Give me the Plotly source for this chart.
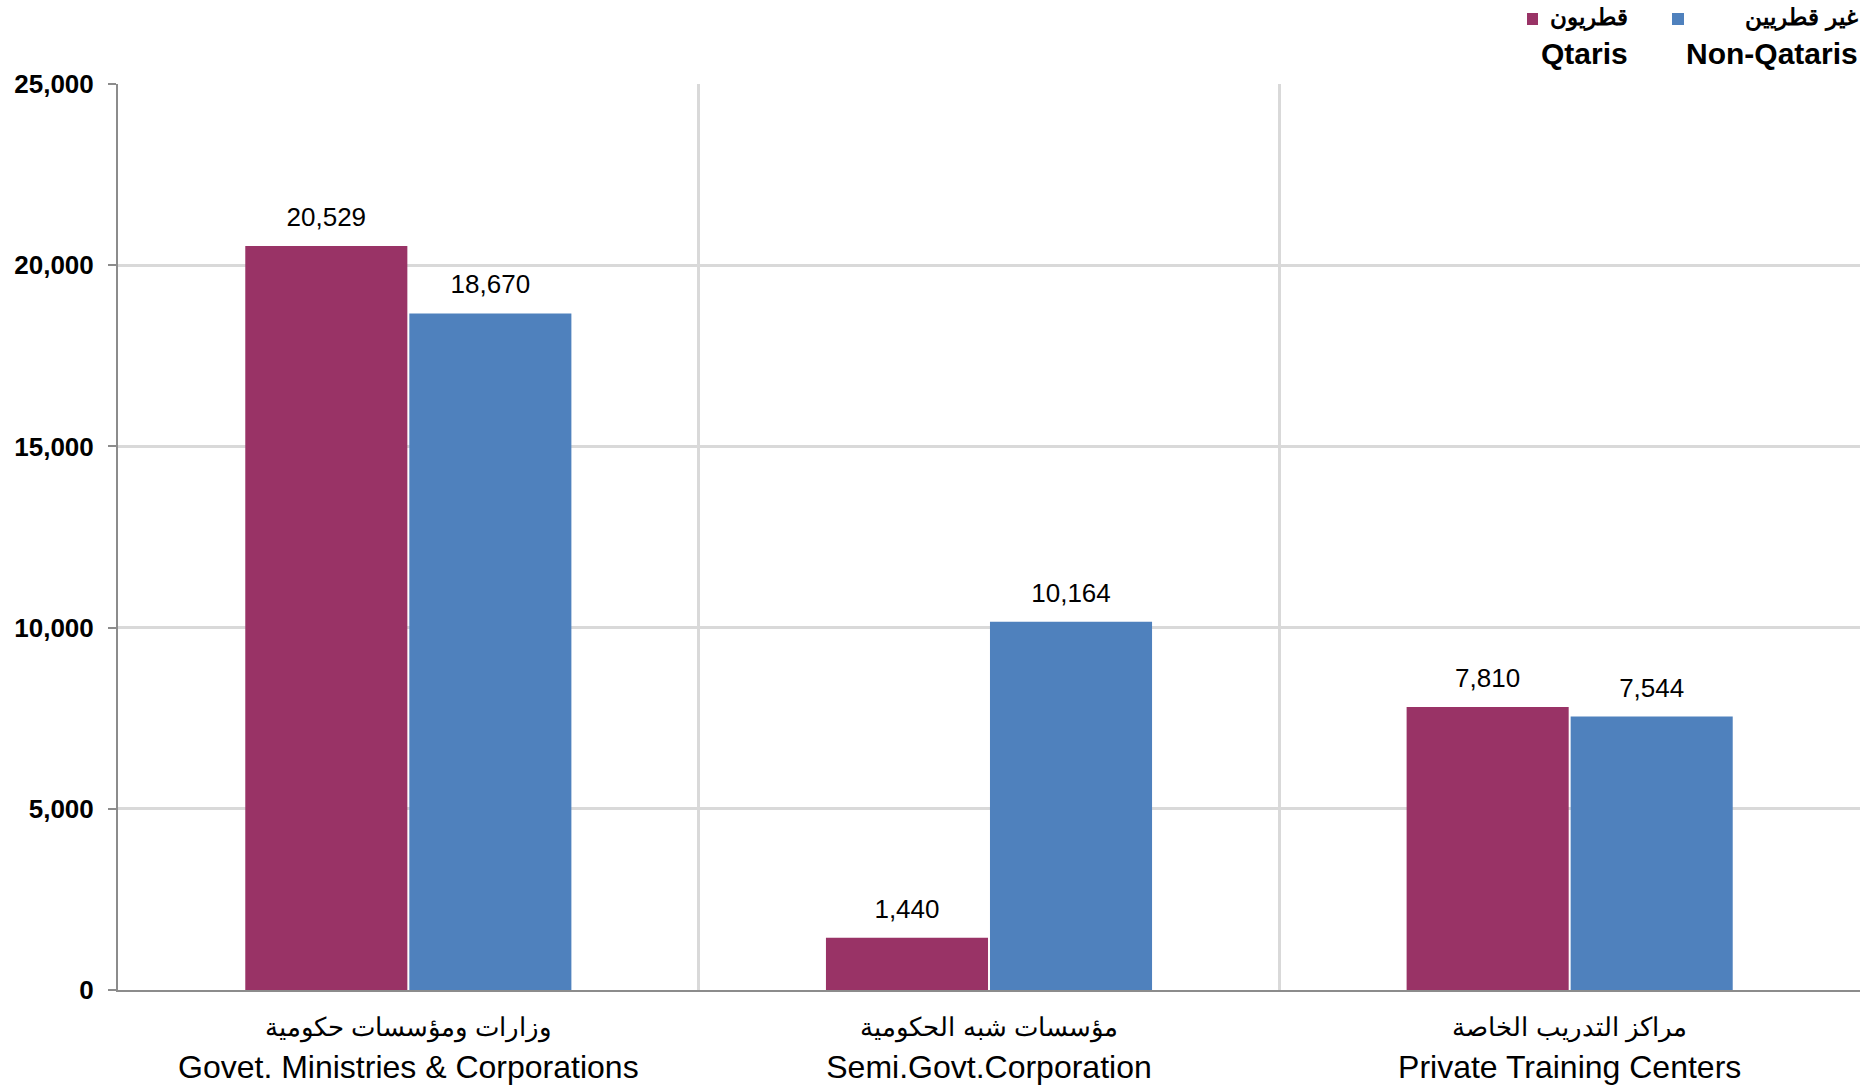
import plotly.graph_objects as go

categories_ar = ["وزارات ومؤسسات حكومية", "مؤسسات شبه الحكومية", "مراكز التدريب الخاصة"]
categories_en = ["Govet. Ministries & Corporations", "Semi.Govt.Corporation", "Private Training Centers"]
qataris = [20529, 1440, 7810]
non_qataris = [18670, 10164, 7544]
series_names_ar = ["قطريون", "غير قطريين"]
series_names_en = ["Qtaris", "Non-Qataris"]
colors = ["#993366", "#4F81BD"]
y_ticks = [0, 5000, 10000, 15000, 20000, 25000]

FONT = "Liberation Sans, Arial, Helvetica, sans-serif"
W, H = 1876, 1087
ML, MR, MT, MB = 118, 16, 84, 97
BARGAP = 0.435

x = [f"<span style='font-size:26px'>{a}</span><br>{e}" for a, e in zip(categories_ar, categories_en)]

fig = go.Figure()
for vals, col, nm in zip([qataris, non_qataris], colors, series_names_en):
    fig.add_trace(go.Bar(
        x=x, y=vals, name=nm,
        marker=dict(color=col, line=dict(width=0)),
        showlegend=False, hoverinfo="skip",
    ))
# value labels, grouped like the bars
for vals, nm in zip([qataris, non_qataris], series_names_en):
    fig.add_trace(go.Scatter(
        x=x, y=vals, name=nm + " labels",
        mode="markers+text",
        marker=dict(size=20, opacity=0, color="white"),
        text=[f"{v:,}" for v in vals],
        textposition="top center",
        textfont=dict(family=FONT, size=26, color="#000000"),
        cliponaxis=False, showlegend=False, hoverinfo="skip",
    ))

fig.update_layout(
    width=W, height=H,
    margin=dict(l=ML, r=MR, t=MT, b=MB),
    paper_bgcolor="white", plot_bgcolor="white",
    barmode="group", bargap=BARGAP, bargroupgap=0.012,
    scattermode="group", scattergap=BARGAP,
    font=dict(family=FONT, color="#000000"),
)
fig.update_xaxes(
    type="category", tickson="boundaries", ticks="",
    showgrid=True, gridcolor="#D9D9D9", gridwidth=3,
    showline=True, linecolor="#8C8C8C", linewidth=2,
    tickfont=dict(family=FONT, size=32, color="#000000"),
    ticklabelstandoff=6, automargin=False,
    mirror=False, zeroline=False,
)
fig.update_yaxes(
    range=[0, 25000], tickvals=y_ticks, tickformat=",",
    showgrid=True, gridcolor="#D9D9D9", gridwidth=3,
    showline=True, linecolor="#8C8C8C", linewidth=2,
    ticks="outside", ticklen=8, tickcolor="#8C8C8C", tickwidth=2,
    tickfont=dict(family=FONT, size=26, color="#000000", weight="bold"),
    ticklabelstandoff=9, zeroline=False, automargin=False,
)

pw = W - ML - MR
ph = H - MT - MB
def from_right(d):
    # paper x for a point d pixels left of the plot's right edge
    return 1.0 - d / pw
def px_y(Y):
    return (H - MB - Y) / ph

# Legend (custom, right-aligned, two-line labels)
legend_right = [230, 0]
legend_key = [(333, 322), (188, 176)]
for i in range(2):
    fig.add_annotation(
        xref="paper", yref="paper",
        x=from_right(legend_right[i]), y=px_y(36.5),
        xanchor="right", yanchor="middle", align="right",
        text=f"<span style='font-size:23px'>{series_names_ar[i]}</span><br>{series_names_en[i]}",
        showarrow=False,
        font=dict(family=FONT, size=30, color="#000000", weight="bold"),
    )
    k0, k1 = legend_key[i]
    fig.add_shape(
        type="rect", xref="paper", yref="paper",
        x0=from_right(k0), x1=from_right(k1), y0=px_y(25), y1=px_y(13),
        fillcolor=colors[i], line=dict(width=0),
    )

fig.write_html("out.html", config={"displayModeBar": False},
               post_script="document.body.style.margin='0px';")
